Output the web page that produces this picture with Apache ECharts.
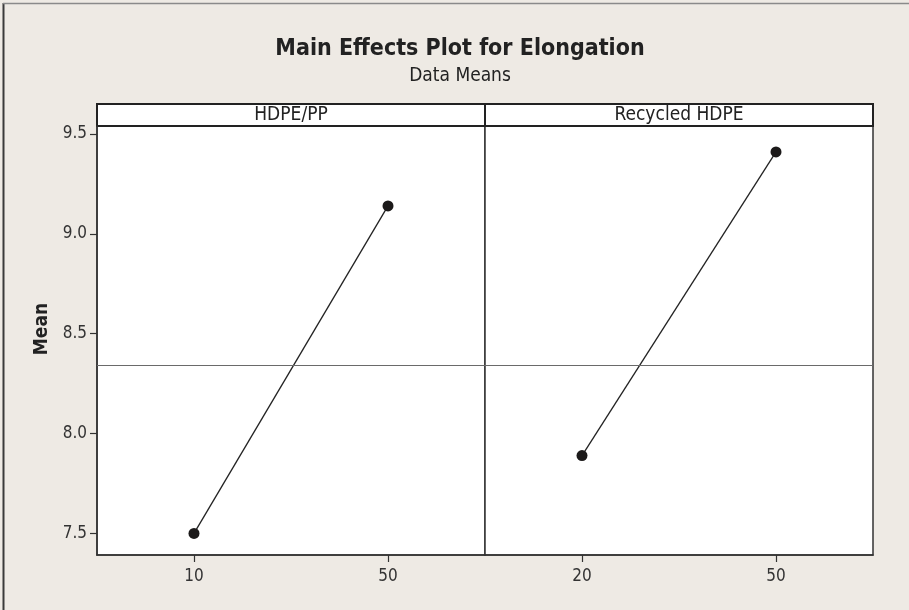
<!DOCTYPE html>
<html>
<head>
<meta charset="utf-8">
<script src="https://cdn.jsdelivr.net/npm/echarts@6/dist/echarts.min.js"></script>
<style>
html,body{margin:0;padding:0;background:#EEEAE4;}
#main{width:909px;height:610px;}
</style>
</head>
<body>
<div id="main"></div>
<script>
const titleText = 'Main Effects Plot for Elongation';
const subtitleText = 'Data Means';
const yAxisName = 'Mean';
const factors = ['HDPE/PP', 'Recycled HDPE'];
const levelsHdpePP = ['10', '50'];
const meansHdpePP = [7.50, 9.14];
const levelsRecycled = ['20', '50'];
const meansRecycled = [7.89, 9.41];
const overallMean = 8.34;
const yTicks = [7.5, 8.0, 8.5, 9.0, 9.5];
const yMin = 7.392, yMax = 9.54;

const FONT = '"DejaVu Sans Condensed", "DejaVu Sans", sans-serif';
const chart = echarts.init(document.getElementById('main'), null, {renderer: 'canvas'});

function yAxisFor(gridIndex, showLabels) {
  return {
    type: 'value', gridIndex, min: yMin, max: yMax,
    splitLine: {show: false},
    axisLine: {show: showLabels, lineStyle: {color: '#333', width: 1.5}},
    axisTick: {show: showLabels, length: 7, lineStyle: {color: '#333', width: 1.2}, customValues: yTicks},
    axisLabel: {show: showLabels, margin: 10, fontFamily: FONT, fontSize: 17, color: '#333',
      customValues: yTicks, formatter: v => Number(v).toFixed(1)}
  };
}
function xAxisFor(gridIndex, levels) {
  return {
    type: 'category', gridIndex, data: levels, boundaryGap: true,
    axisLine: {show: true, lineStyle: {color: '#333', width: 1.5}},
    axisTick: {show: true, alignWithLabel: true, length: 7, lineStyle: {color: '#333', width: 1.2}},
    axisLabel: {margin: 13, fontFamily: FONT, fontSize: 17, color: '#333'},
    splitLine: {show: false}
  };
}
function seriesFor(idx, values) {
  return {
    type: 'line', xAxisIndex: idx, yAxisIndex: idx, data: values,
    symbol: 'circle', symbolSize: 11, showSymbol: true,
    itemStyle: {color: '#1c1a1a'},
    lineStyle: {color: '#222', width: 1.3},
    silent: true, animation: false,
    markLine: {
      silent: true, symbol: ['none', 'none'], label: {show: false},
      lineStyle: {color: '#6a6a6a', width: 1, type: 'solid'},
      data: [{yAxis: overallMean}]
    }
  };
}

const option = {
  backgroundColor: '#EEEAE4',
  animation: false,
  title: {
    text: titleText, subtext: subtitleText,
    left: 455, textAlign: 'center', top: 33, itemGap: 6,
    textStyle: {fontFamily: FONT, fontWeight: 'bold', fontSize: 23, color: '#222'},
    subtextStyle: {fontFamily: FONT, fontSize: 19, color: '#222'}
  },
  grid: [
    {left: 97, right: 424, top: 126, bottom: 55, show: true, backgroundColor: '#fff', borderColor: '#333', borderWidth: 1.5},
    {left: 485, right: 36, top: 126, bottom: 55, show: true, backgroundColor: '#fff', borderColor: '#333', borderWidth: 1.5}
  ],
  xAxis: [xAxisFor(0, levelsHdpePP), xAxisFor(1, levelsRecycled)],
  yAxis: [yAxisFor(0, true), yAxisFor(1, false)],
  series: [seriesFor(0, meansHdpePP), seriesFor(1, meansRecycled)],
  graphic: [
    {type: 'line', shape: {x1: 3.5, y1: 3, x2: 3.5, y2: 610}, style: {stroke: '#3a3a3a', lineWidth: 2}, silent: true},
    {type: 'line', shape: {x1: 3, y1: 3.5, x2: 909, y2: 3.5}, style: {stroke: '#8a8a8a', lineWidth: 1.5}, silent: true},
    {type: 'rect', shape: {x: 97, y: 104, width: 776, height: 22}, style: {fill: '#fff', stroke: '#222', lineWidth: 2}, silent: true},
    {type: 'line', shape: {x1: 485, y1: 104, x2: 485, y2: 126}, style: {stroke: '#222', lineWidth: 2}, silent: true},
    {type: 'text', x: 291, y: 115, style: {text: factors[0], fontFamily: FONT, fontSize: 19, fill: '#222', align: 'center', verticalAlign: 'middle'}, silent: true},
    {type: 'text', x: 679, y: 115, style: {text: factors[1], fontFamily: FONT, fontSize: 19, fill: '#222', align: 'center', verticalAlign: 'middle'}, silent: true},
    {type: 'text', x: 42, y: 329, rotation: Math.PI / 2, style: {text: yAxisName, fontFamily: FONT, fontWeight: 'bold', fontSize: 19, fill: '#222', align: 'center', verticalAlign: 'middle'}, silent: true}
  ]
};
chart.setOption(option);
</script>
</body>
</html>
